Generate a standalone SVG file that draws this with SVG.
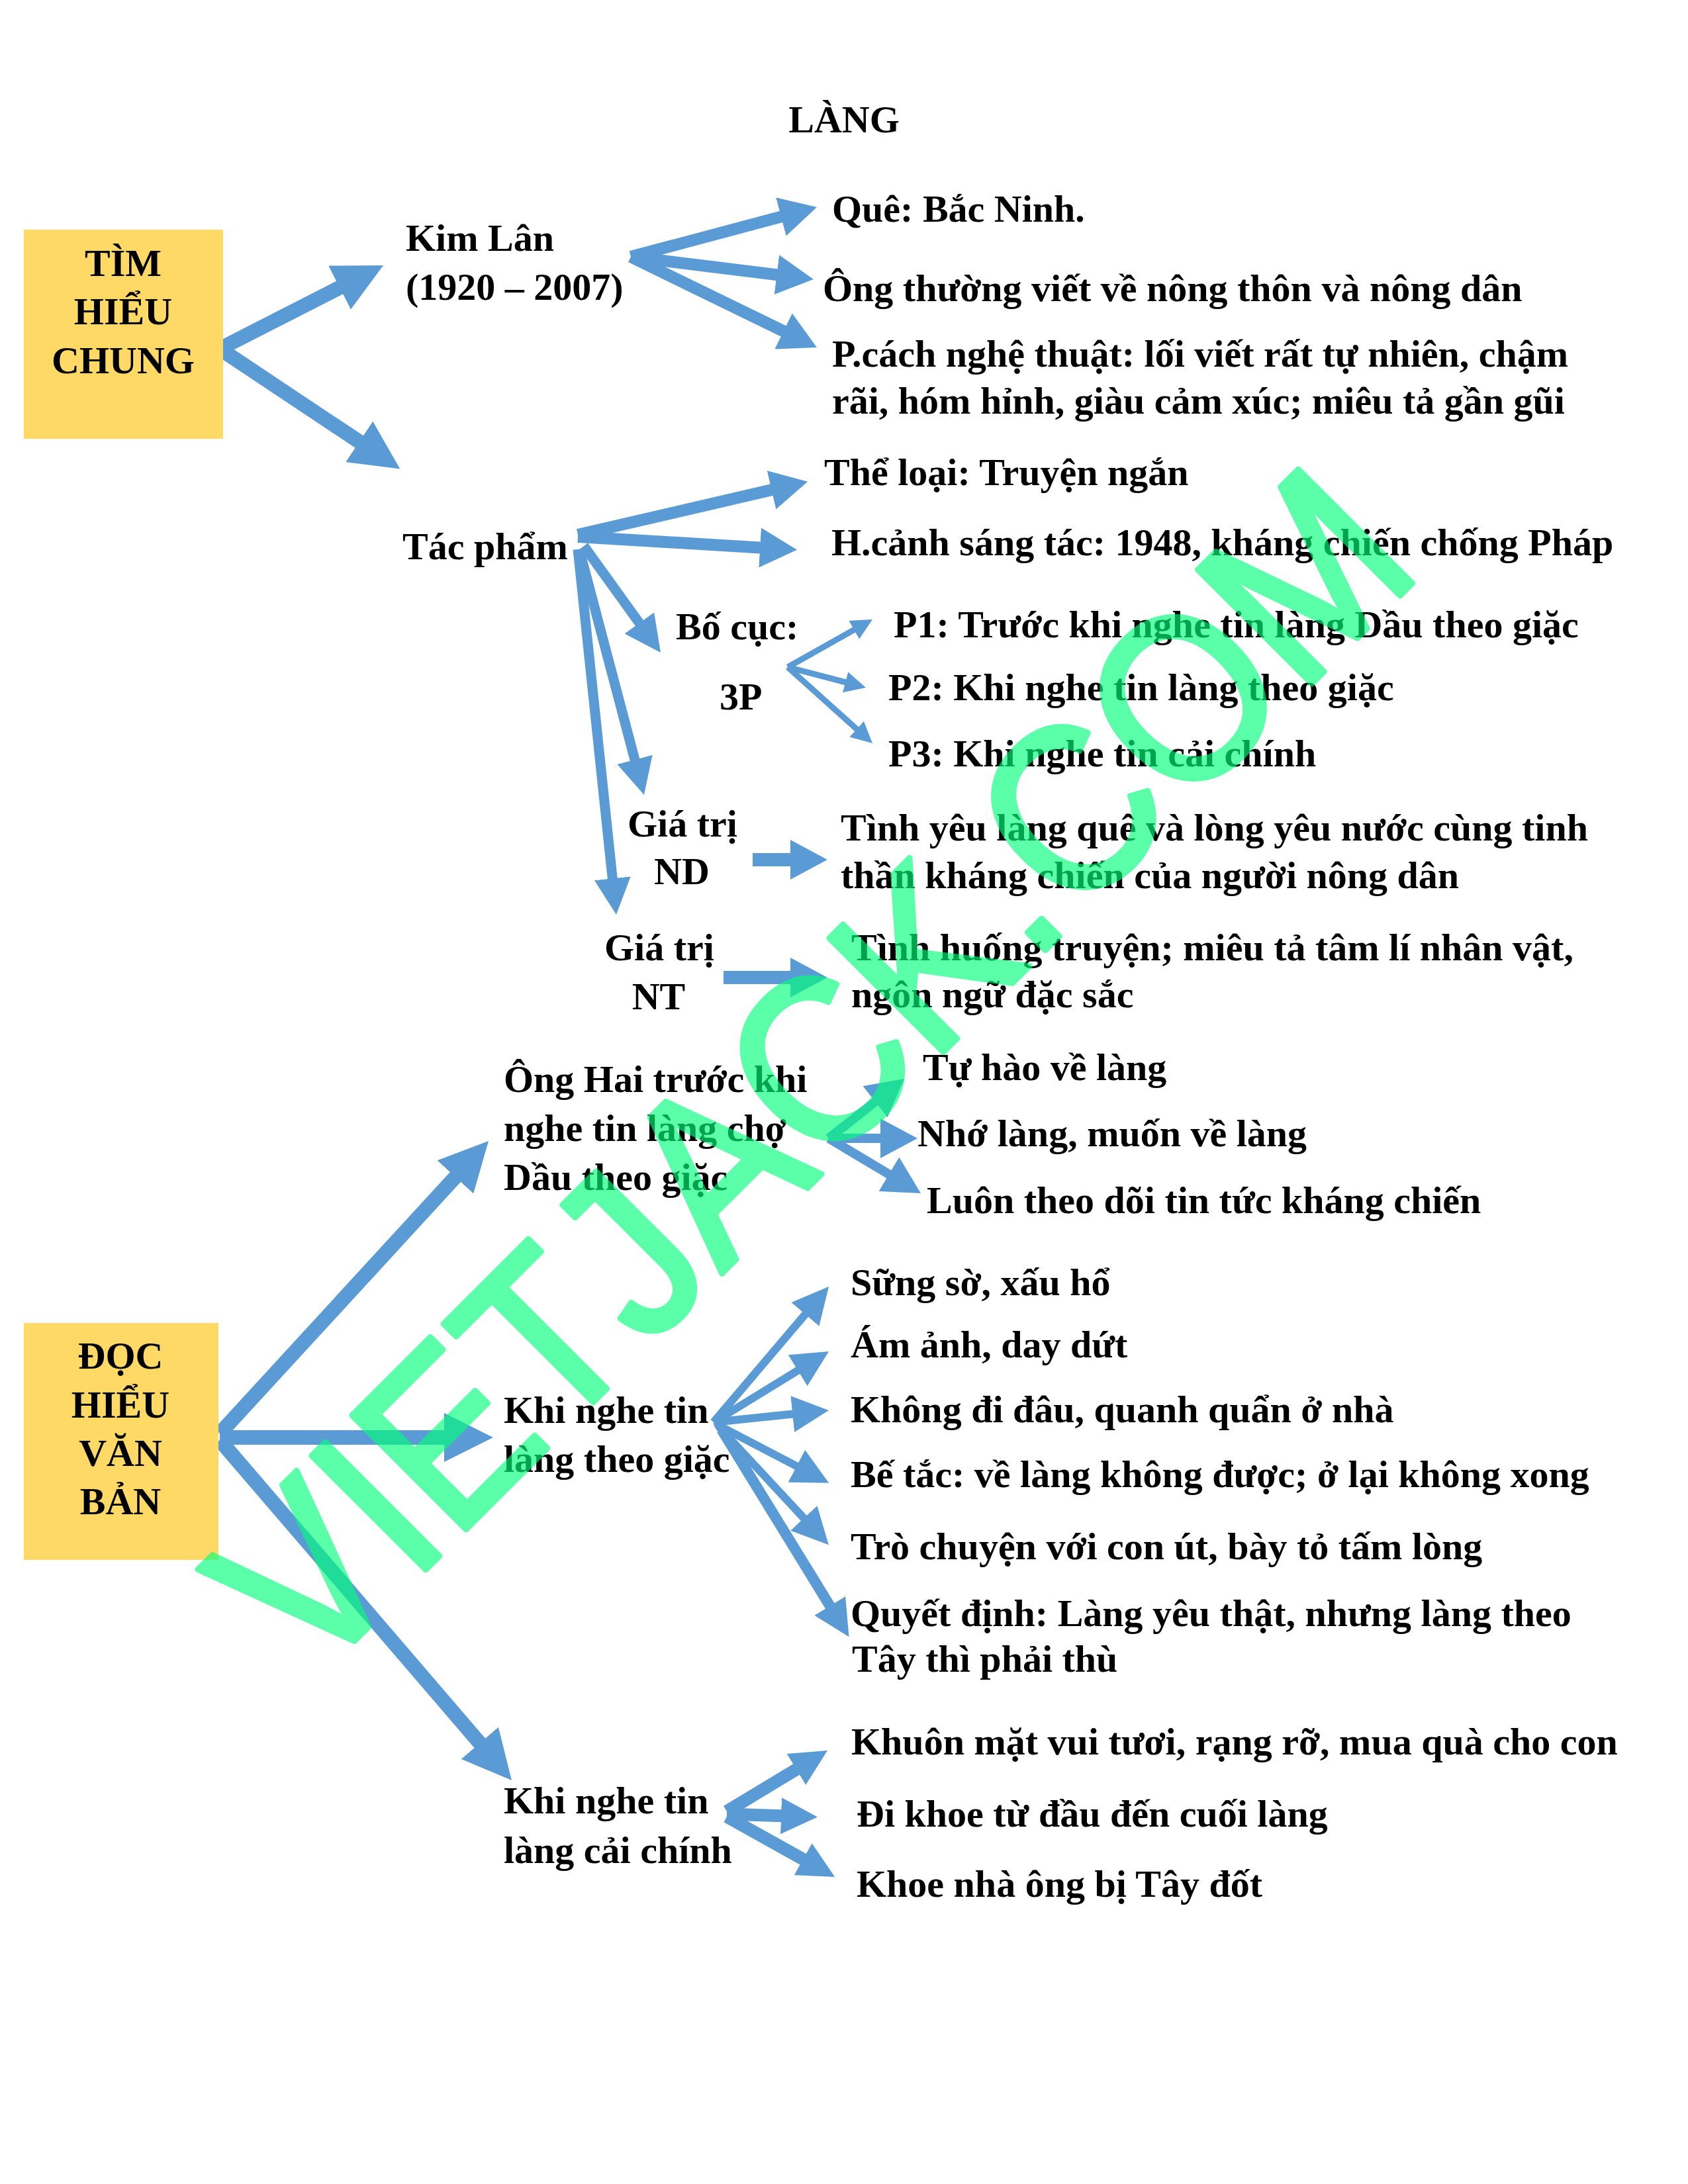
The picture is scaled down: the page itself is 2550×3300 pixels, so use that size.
<svg xmlns="http://www.w3.org/2000/svg" width="2550" height="3300" viewBox="0 0 2550 3300">
<style>
text{font-family:"Liberation Serif","Times New Roman",serif;font-weight:bold;font-size:58px;fill:#000}
.c{text-anchor:middle}
.box{fill:#FFD966}
.a{stroke:#5B9BD5;fill:none;stroke-linecap:butt}
.big{stroke-width:22;marker-end:url(#hBig)}
.kim{stroke-width:18;marker-end:url(#hKim)}
.med{stroke-width:15;marker-end:url(#hMed)}
.thin{stroke-width:12;marker-end:url(#hMed)}
.sm{stroke-width:9;marker-end:url(#hSm)}
.wm{font-family:"Liberation Sans",Arial,sans-serif;font-weight:normal;font-size:322px;fill:#00FF7A;stroke:#00FF7A;stroke-width:8;stroke-linejoin:round;opacity:0.64}
</style>
<defs>
<marker id="hBig" viewBox="0 0 74 74" refX="10" refY="37" markerWidth="74" markerHeight="74" markerUnits="userSpaceOnUse" orient="auto"><path d="M0,0 L74,37 L0,74 z" fill="#5B9BD5"/></marker>
<marker id="hKim" viewBox="0 0 56 60" refX="12" refY="30" markerWidth="56" markerHeight="60" markerUnits="userSpaceOnUse" orient="auto"><path d="M0,0 L56,30 L0,60 z" fill="#5B9BD5"/></marker>
<marker id="hMed" viewBox="0 0 55 55" refX="8" refY="27.5" markerWidth="55" markerHeight="55" markerUnits="userSpaceOnUse" orient="auto"><path d="M0,0 L55,27.5 L0,55 z" fill="#5B9BD5"/></marker>
<marker id="hSm" viewBox="0 0 32 32" refX="5" refY="16" markerWidth="32" markerHeight="32" markerUnits="userSpaceOnUse" orient="auto"><path d="M0,0 L32,16 L0,32 z" fill="#5B9BD5"/></marker>
</defs>
<rect width="2550" height="3300" fill="#fff"/>
<g id="title"><text class="c" x="1275" y="200">LÀNG</text></g>

<g id="connectors">
<line class="a big" x1="332" y1="527" x2="522" y2="430"/>
<line class="a big" x1="332" y1="527" x2="551" y2="673"/>
<line class="a kim" x1="953" y1="388" x2="1191.5" y2="324.4"/>
<line class="a kim" x1="953" y1="388" x2="1185.3" y2="416.6"/>
<line class="a kim" x1="953" y1="388" x2="1194.4" y2="505.7"/>
<line class="a kim" x1="873" y1="808" x2="1177.2" y2="737.6"/>
<line class="a kim" x1="873" y1="811" x2="1160.1" y2="828.2"/>
<line class="a med" x1="882" y1="825" x2="970.5" y2="947.9"/>
<line class="a med" x1="875" y1="830" x2="961" y2="1155.6"/>
<line class="a med" x1="873" y1="830" x2="926.1" y2="1335.3"/>
<line class="a sm" x1="1190" y1="1008" x2="1294.5" y2="949.2"/>
<line class="a sm" x1="1190" y1="1008" x2="1281.9" y2="1032.1"/>
<line class="a sm" x1="1190" y1="1008" x2="1297.9" y2="1105"/>
<line class="a kim" style="stroke-width:20" x1="1137" y1="1299" x2="1206" y2="1299"/>
<line class="a kim" style="stroke-width:20" x1="1093" y1="1477" x2="1206" y2="1477"/>
<line class="a big" x1="332" y1="2166" x2="694.7" y2="1771.1"/>
<line class="a big" x1="332" y1="2172" x2="681" y2="2172"/>
<line class="a big" x1="332" y1="2176" x2="731.3" y2="2641.4"/>
<line class="a kim" style="stroke-width:14" x1="1252" y1="1720" x2="1331.5" y2="1657.3"/>
<line class="a kim" style="stroke-width:14" x1="1252" y1="1720" x2="1342" y2="1720"/>
<line class="a kim" style="stroke-width:14" x1="1252" y1="1720" x2="1353.2" y2="1780.4"/>
<line class="a thin" x1="1078" y1="2149" x2="1221.6" y2="1979.8"/>
<line class="a thin" x1="1078" y1="2149" x2="1212" y2="2066.6"/>
<line class="a thin" x1="1078" y1="2149" x2="1205.2" y2="2135.8"/>
<line class="a thin" x1="1082" y1="2152" x2="1210.5" y2="2219"/>
<line class="a thin" x1="1086" y1="2156" x2="1219.8" y2="2299.8"/>
<line class="a thin" style="stroke-width:16" x1="1090" y1="2160" x2="1257.9" y2="2433.3"/>
<line class="a med" style="stroke-width:19" x1="1098" y1="2737" x2="1209.8" y2="2669.3"/>
<line class="a med" style="stroke-width:19" x1="1098" y1="2741" x2="1188" y2="2744"/>
<line class="a med" style="stroke-width:19" x1="1098" y1="2745" x2="1220.1" y2="2813.1"/>
</g>

<g id="n-timhieu"><rect class="box" x="36" y="347" width="301" height="316"/><text class="c" x="186" y="417">TÌM</text><text class="c" x="186" y="490">HIỂU</text><text class="c" x="186" y="564">CHUNG</text></g>
<g id="n-kimlan"><text x="613" y="379">Kim Lân</text><text x="613" y="453">(1920 – 2007)</text></g>
<g id="n-que"><text x="1257" y="335">Quê: Bắc Ninh.</text></g>
<g id="n-ong"><text x="1243" y="455">Ông thường viết về nông thôn và nông dân</text></g>
<g id="n-pcach"><text x="1257" y="554">P.cách nghệ thuật: lối viết rất tự nhiên, chậm</text><text x="1257" y="625">rãi, hóm hỉnh, giàu cảm xúc; miêu tả gần gũi</text></g>
<g id="n-tacpham"><text x="608" y="845">Tác phẩm</text></g>
<g id="n-theloai"><text x="1245" y="733">Thể loại: Truyện ngắn</text></g>
<g id="n-hcanh"><text x="1256" y="839">H.cảnh sáng tác: 1948, kháng chiến chống Pháp</text></g>
<g id="n-bocuc"><text x="1021" y="966">Bố cục:</text><text x="1087" y="1072">3P</text></g>
<g id="n-p1"><text x="1350" y="963">P1: Trước khi nghe tin làng Dầu theo giặc</text></g>
<g id="n-p2"><text x="1342" y="1058">P2: Khi nghe tin làng theo giặc</text></g>
<g id="n-p3"><text x="1342" y="1158">P3: Khi nghe tin cải chính</text></g>
<g id="n-nd"><text x="948" y="1264">Giá trị</text><text class="c" x="1030" y="1336">ND</text></g>
<g id="n-nd-t"><text x="1270" y="1270">Tình yêu làng quê và lòng yêu nước cùng tinh</text><text x="1270" y="1342">thần kháng chiến của người nông dân</text></g>
<g id="n-nt"><text x="913" y="1451">Giá trị</text><text class="c" x="995" y="1525">NT</text></g>
<g id="n-nt-t"><text x="1286" y="1451">Tình huống truyện; miêu tả tâm lí nhân vật,</text><text x="1286" y="1522">ngôn ngữ đặc sắc</text></g>

<g id="n-dochieu"><rect class="box" x="36" y="1999" width="294" height="358"/><text class="c" x="182" y="2068">ĐỌC</text><text class="c" x="182" y="2142">HIỂU</text><text class="c" x="182" y="2215">VĂN</text><text class="c" x="182" y="2288">BẢN</text></g>
<g id="n-onghai"><text x="761" y="1650">Ông Hai trước khi</text><text x="761" y="1724">nghe tin làng chợ</text><text x="761" y="1798">Dầu theo giặc</text></g>
<g id="n-tuhao"><text x="1394" y="1632">Tự hào về làng</text></g>
<g id="n-nho"><text x="1386" y="1732">Nhớ làng, muốn về làng</text></g>
<g id="n-luon"><text x="1400" y="1833">Luôn theo dõi tin tức kháng chiến</text></g>
<g id="n-theogiac"><text x="761" y="2150">Khi nghe tin</text><text x="761" y="2224">làng theo giặc</text></g>
<g id="n-sung"><text x="1285" y="1957">Sững sờ, xấu hổ</text></g>
<g id="n-am"><text x="1285" y="2051">Ám ảnh, day dứt</text></g>
<g id="n-khong"><text x="1285" y="2149">Không đi đâu, quanh quẩn ở nhà</text></g>
<g id="n-be"><text x="1285" y="2247">Bế tắc: về làng không được; ở lại không xong</text></g>
<g id="n-tro"><text x="1285" y="2356">Trò chuyện với con út, bày tỏ tấm lòng</text></g>
<g id="n-quyet"><text x="1285" y="2457">Quyết định: Làng yêu thật, nhưng làng theo</text><text x="1287" y="2526">Tây thì phải thù</text></g>
<g id="n-caichinh"><text x="761" y="2740">Khi nghe tin</text><text x="761" y="2815">làng cải chính</text></g>
<g id="n-khuon"><text x="1286" y="2651">Khuôn mặt vui tươi, rạng rỡ, mua quà cho con</text></g>
<g id="n-dikhoe"><text x="1294" y="2760">Đi khoe từ đầu đến cuối làng</text></g>
<g id="n-khoenha"><text x="1294" y="2866">Khoe nhà ông bị Tây đốt</text></g>

<g id="watermark"><text class="wm" transform="translate(470,2545) rotate(-45) scale(1,1.1)">VIETJACK.COM</text></g>
</svg>
